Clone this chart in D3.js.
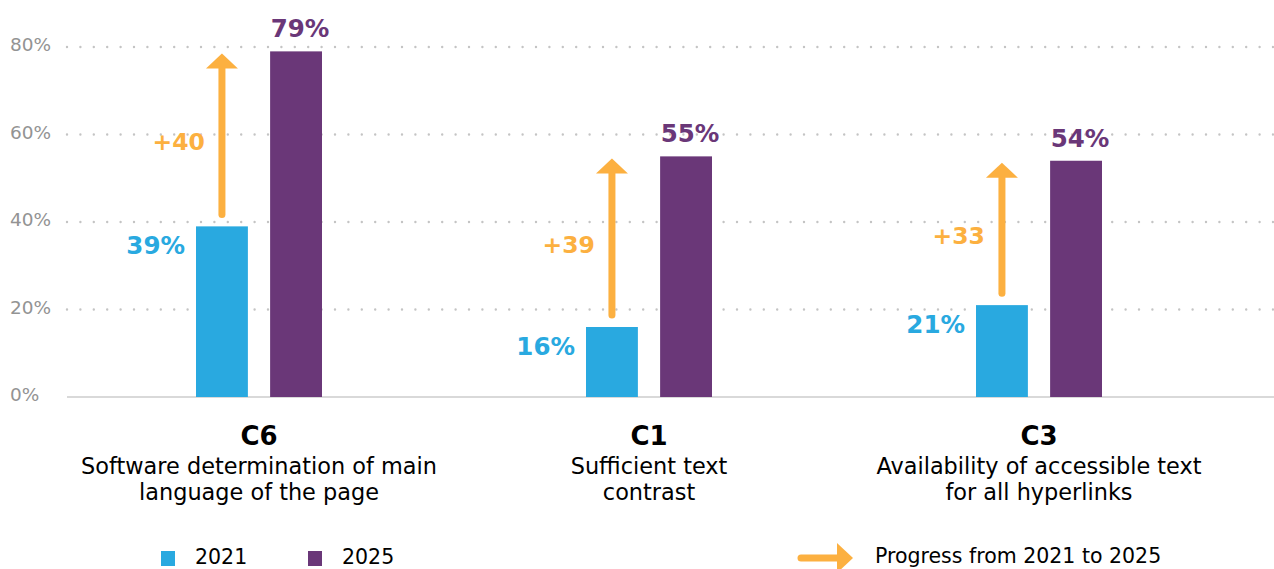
<!DOCTYPE html>
<html>
<head>
<meta charset="utf-8">
<script src="https://cdn.jsdelivr.net/npm/d3@7"></script>
<style>
  body { margin: 0; background: #fff; }
  text { font-family: "DejaVu Sans", "Open Sans", sans-serif; }
</style>
</head>
<body>
<script>
// data
var codes = ["C6", "C1", "C3"];
var descriptions = [
  ["Software determination of main", "language of the page"],
  ["Sufficient text", "contrast"],
  ["Availability of accessible text", "for all hyperlinks"]
];
var years = ["2021", "2025"];
var values2021 = [39, 16, 21];
var values2025 = [79, 55, 54];
var yTicks = [0, 20, 40, 60, 80];
var progressLabel = "Progress from 2021 to 2025";

var width = 1274, height = 569;
var blue = "#29a9e0", purple = "#6a3778", orange = "#fcb040";

var svg = d3.select("body").append("svg")
    .attr("width", width)
    .attr("height", height);

var y = d3.scaleLinear().domain([0, 80]).range([397, 47]);
var x0 = d3.scaleBand().domain(codes).range([64, 1234]);
var x1 = d3.scaleBand().domain(years).range([-63, 63]).paddingInner(0.3);
var color = d3.scaleOrdinal().domain(years).range([blue, purple]);

// grid
svg.append("g").selectAll("line")
    .data(yTicks.filter(function(d) { return d > 0; }))
  .enter().append("line")
    .attr("x1", 67).attr("x2", width)
    .attr("y1", function(d) { return y(d); })
    .attr("y2", function(d) { return y(d); })
    .style("stroke", "#c4c4c4")
    .style("stroke-width", 2.4)
    .style("stroke-linecap", "round")
    .style("stroke-dasharray", "0,13.4");

svg.append("line")
    .attr("x1", 67).attr("x2", width)
    .attr("y1", y(0)).attr("y2", y(0))
    .style("stroke", "#cccccc")
    .style("stroke-width", 1.5);

svg.append("g").selectAll("text")
    .data(yTicks)
  .enter().append("text")
    .attr("x", 10)
    .attr("y", function(d) { return y(d) + 4; })
    .style("font-size", "18.5px")
    .style("fill", "#939393")
    .text(function(d) { return d + "%"; });

var rows = codes.map(function(c, i) {
  return {code: c, desc: descriptions[i], v: {"2021": values2021[i], "2025": values2025[i]}};
});

var groups = svg.append("g").selectAll("g")
    .data(rows)
  .enter().append("g")
    .attr("transform", function(d) { return "translate(" + (x0(d.code) + x0.bandwidth() / 2) + ",0)"; });

groups.selectAll("rect")
    .data(function(d) { return years.map(function(yr) { return {year: yr, value: d.v[yr]}; }); })
  .enter().append("rect")
    .attr("x", function(d) { return x1(d.year); })
    .attr("width", x1.bandwidth())
    .attr("y", function(d) { return y(d.value); })
    .attr("height", function(d) { return y(0) - y(d.value); })
    .style("fill", function(d) { return color(d.year); });

// 2021 value labels, left of the bar
groups.append("text")
    .attr("x", x1("2021") - 11)
    .attr("y", function(d) { return y(d.v["2021"]) + 28; })
    .attr("text-anchor", "end")
    .style("font-size", "24.5px")
    .style("font-weight", "bold")
    .style("fill", blue)
    .text(function(d) { return d.v["2021"] + "%"; });

// 2025 value labels, above the bar
groups.append("text")
    .attr("x", x1("2025") + x1.bandwidth() / 2 + 4)
    .attr("y", function(d) { return y(d.v["2025"]) - 14; })
    .attr("text-anchor", "middle")
    .style("font-size", "24.5px")
    .style("font-weight", "bold")
    .style("fill", purple)
    .text(function(d) { return d.v["2025"] + "%"; });

// progress arrows
var ax = x1("2021") + x1.bandwidth() / 2;
groups.append("line")
    .attr("x1", ax).attr("x2", ax)
    .attr("y1", function(d) { return y(d.v["2021"]) - 12; })
    .attr("y2", function(d) { return y(d.v["2025"]) + 14; })
    .style("stroke", orange)
    .style("stroke-width", 7)
    .style("stroke-linecap", "round");

groups.append("path")
    .attr("d", function(d) {
      var t = y(d.v["2025"]) + 2;
      return "M" + (ax - 16) + "," + (t + 15) + "L" + ax + "," + t + "L" + (ax + 16) + "," + (t + 15) + "Z";
    })
    .style("fill", orange);

groups.append("text")
    .attr("x", ax - 17)
    .attr("y", function(d) { return (y(d.v["2021"]) + y(d.v["2025"])) / 2 + 11; })
    .attr("text-anchor", "end")
    .style("font-size", "23.5px")
    .style("font-weight", "bold")
    .style("fill", orange)
    .text(function(d) { return "+" + (d.v["2025"] - d.v["2021"]); });

// category labels
groups.append("text")
    .attr("y", 445)
    .attr("text-anchor", "middle")
    .style("font-size", "26px")
    .style("font-weight", "bold")
    .style("fill", "#000")
    .text(function(d) { return d.code; });

groups.each(function(d) {
  d3.select(this).selectAll(".desc")
      .data(d.desc)
    .enter().append("text")
      .attr("class", "desc")
      .attr("y", function(t, i) { return 474 + i * 25.7; })
      .attr("text-anchor", "middle")
      .style("font-size", "22.4px")
      .style("fill", "#000")
      .text(function(t) { return t; });
});

// legend
var legend = svg.append("g");
var legendX = d3.scalePoint().domain(years).range([161, 308]);
years.forEach(function(yr) {
  legend.append("rect")
      .attr("x", legendX(yr)).attr("y", 551)
      .attr("width", 14).attr("height", 15)
      .style("fill", color(yr));
  legend.append("text")
      .attr("x", legendX(yr) + 34).attr("y", 564)
      .style("font-size", "20.5px")
      .style("fill", "#000")
      .text(yr);
});

legend.append("line")
    .attr("x1", 801).attr("x2", 840)
    .attr("y1", 558).attr("y2", 558)
    .style("stroke", orange)
    .style("stroke-width", 7)
    .style("stroke-linecap", "round");
legend.append("path")
    .attr("d", "M837,543L853,558L837,573Z")
    .style("fill", orange);
legend.append("text")
    .attr("x", 875).attr("y", 563)
    .style("font-size", "20.5px")
    .style("fill", "#000")
    .text(progressLabel);
</script>
</body>
</html>
